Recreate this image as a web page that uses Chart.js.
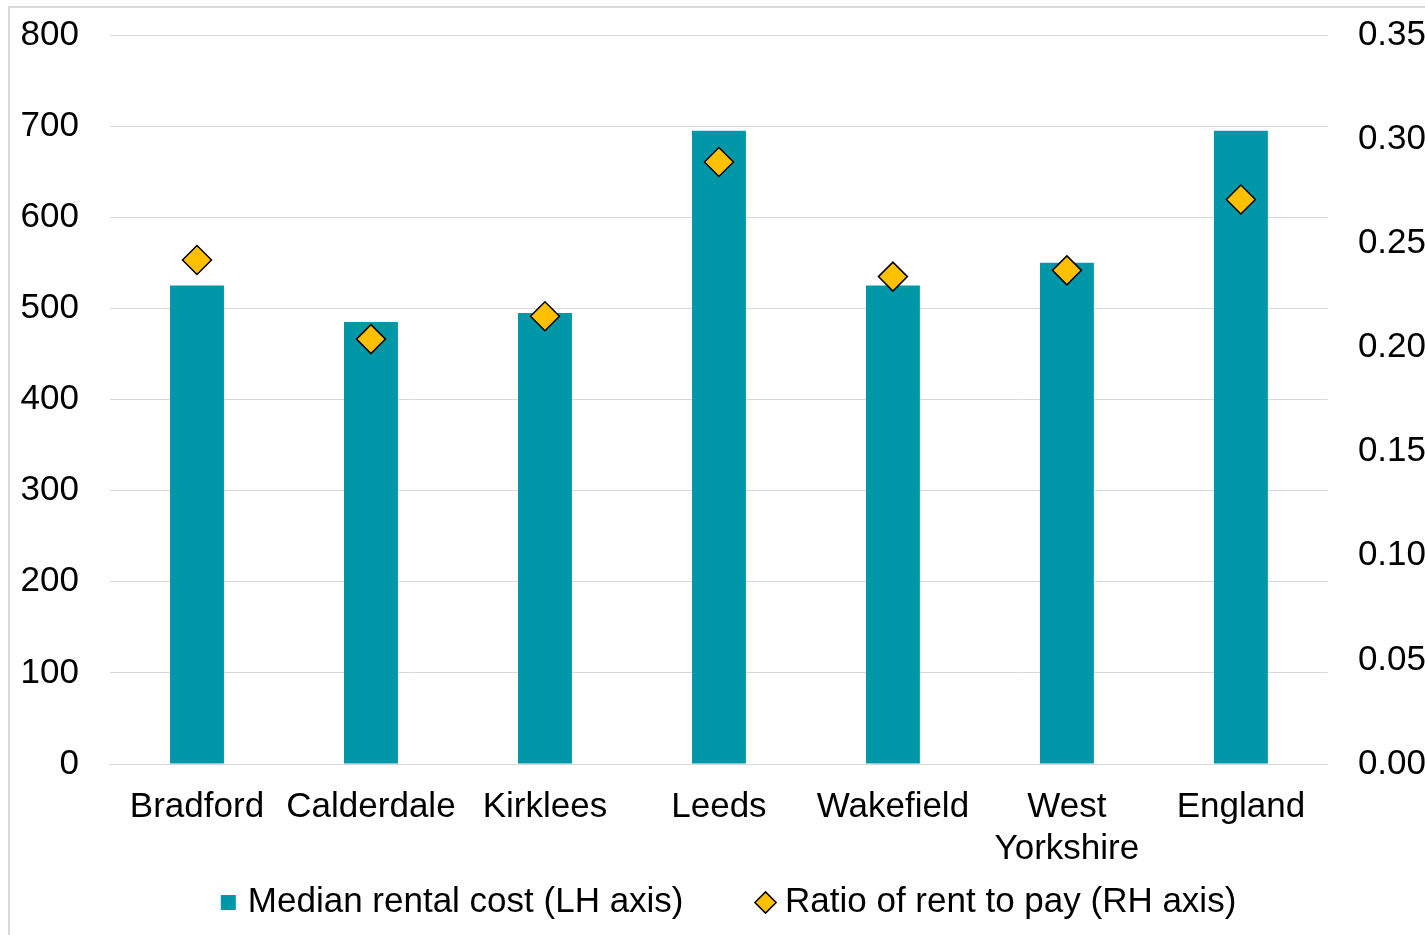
<!DOCTYPE html>
<html lang="en">
<head>
    <meta charset="UTF-8">
    <title>Median rental cost and ratio of rent to pay</title>
    <script src="https://cdn.jsdelivr.net/npm/chart.js"></script>
    <style>
        body {
            margin: 0;
            background: #ffffff;
            overflow: hidden;
        }
        .frame {
            position: absolute;
            left: 8px;
            top: 6px;
            width: 1460px;
            height: 1000px;
            border-left: 2px solid #d9d9d9;
            border-top: 2px solid #d9d9d9;
        }
        canvas {
            display: block;
        }
    </style>
</head>
<body>
    <div class="frame">
        <canvas id="rentChart" width="1450" height="922"></canvas>
    </div>
    <script>
        const categories = ["Bradford", "Calderdale", "Kirklees", "Leeds", "Wakefield", ["West", "Yorkshire"], "England"];
        const medianRent = [525, 485, 495, 695, 525, 550, 695];
        const rentToPayRatio = [0.242, 0.204, 0.215, 0.289, 0.234, 0.237, 0.271];
        const leftTicks = [0, 800, 100];     // min, max, step
        const rightTicks = [0, 0.35, 0.05];

        const teal = "#0097A9";
        const gold = "#FFC000";
        const gridColor = "#d9d9d9";
        const fontFamily = "'Liberation Sans', Arial, sans-serif";

        let ctx = document.getElementById("rentChart").getContext("2d");
        new Chart(ctx, {
            data: {
                labels: categories,
                datasets: [{
                    type: "bar",
                    label: "Median rental cost (LH axis)",
                    data: medianRent,
                    backgroundColor: teal,
                    borderWidth: 0,
                    pointStyle: "rect",
                    barPercentage: 0.31,
                    categoryPercentage: 1,
                    yAxisID: "y",
                    order: 1
                }, {
                    type: "line",
                    label: "Ratio of rent to pay (RH axis)",
                    data: rentToPayRatio,
                    showLine: false,
                    pointStyle: "rectRot",
                    pointRadius: 14.5,
                    pointBorderWidth: 1.5,
                    pointBackgroundColor: gold,
                    pointBorderColor: "#000000",
                    backgroundColor: gold,
                    borderColor: "#000000",
                    yAxisID: "y1",
                    order: 0
                }]
            },
            options: {
                responsive: false,
                animation: false,
                layout: {
                    padding: { left: 10.6, right: 18, top: 27, bottom: 0 }
                },
                font: { family: fontFamily, size: 35 },
                color: "#000000",
                scales: {
                    x: {
                        grid: { display: true, color: "transparent", drawTicks: true, tickLength: 22, tickColor: "transparent" },
                        border: { display: true, color: gridColor, width: 1 },
                        ticks: {
                            color: "#000000",
                            font: { family: fontFamily, size: 35 },
                            padding: 0,
                            maxRotation: 0,
                            autoSkip: false
                        }
                    },
                    y: {
                        position: "left",
                        min: leftTicks[0],
                        max: leftTicks[1],
                        grid: { color: gridColor, lineWidth: 1, drawTicks: true, tickLength: 31, tickColor: "transparent" },
                        border: { display: false },
                        ticks: {
                            stepSize: leftTicks[2],
                            color: "#000000",
                            font: { family: fontFamily, size: 35 },
                            padding: 0
                        }
                    },
                    y1: {
                        position: "right",
                        min: rightTicks[0],
                        max: rightTicks[1],
                        grid: { display: true, drawOnChartArea: false, drawTicks: true, tickLength: 30, tickColor: "transparent" },
                        border: { display: false },
                        ticks: {
                            stepSize: rightTicks[2],
                            color: "#000000",
                            font: { family: fontFamily, size: 35 },
                            padding: 0,
                            callback: function (value) { return Number(value).toFixed(2); }
                        },
                        // extra blank room right of the labels, so the legend centres like the original
                        afterFit: function (scale) { scale.width += 16; }
                    }
                },
                plugins: {
                    tooltip: { enabled: false },
                    legend: {
                        position: "bottom",
                        // the empty title with negative padding pulls the wide-spaced legend row up
                        title: { display: true, text: "", font: { size: 10 }, padding: { top: -77, bottom: 0 } },
                        labels: {
                            usePointStyle: true,
                            boxWidth: 4,
                            boxHeight: 15,
                            padding: 80,
                            color: "#000000",
                            font: { family: fontFamily, size: 35 },
                            sort: (a, b) => a.datasetIndex - b.datasetIndex
                        }
                    }
                }
            }
        });
    </script>
</body>
</html>
